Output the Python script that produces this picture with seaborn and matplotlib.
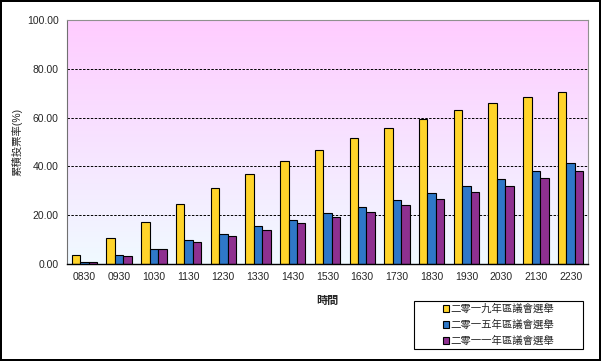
import numpy as np
import pandas as pd
import matplotlib
matplotlib.use("Agg")
import matplotlib.pyplot as plt
from matplotlib.patches import Rectangle
import seaborn as sns

times = ["0830", "0930", "1030", "1130", "1230", "1330", "1430", "1530",
         "1630", "1730", "1830", "1930", "2030", "2130", "2230"]
s2019 = [3.5, 10.5, 17.4, 24.4, 31.3, 37.0, 42.3, 46.8, 51.7, 55.8, 59.5, 63.1, 66.0, 68.4, 70.5]
s2015 = [1.0, 3.5, 6.0, 9.7, 12.5, 15.4, 18.2, 20.7, 23.5, 26.4, 29.3, 32.1, 35.0, 38.2, 41.5]
s2011 = [1.0, 3.1, 6.0, 8.9, 11.3, 13.8, 16.6, 19.1, 21.5, 24.0, 26.8, 29.7, 32.1, 35.4, 38.2]
series_names = ["二零一九年區議會選舉", "二零一五年區議會選舉", "二零一一年區議會選舉"]
yticks = [0, 20, 40, 60, 80, 100]

df = pd.DataFrame({
    "time": times * 3,
    "value": s2019 + s2015 + s2011,
    "series": [series_names[0]] * 15 + [series_names[1]] * 15 + [series_names[2]] * 15,
})

sns.set_style("white")
plt.rcParams["font.family"] = ["Liberation Sans", "Noto Sans CJK TC", "DejaVu Sans"]

fig = plt.figure(figsize=(6.01, 3.61), dpi=100, linewidth=1.5, edgecolor="black")
ax = fig.add_axes([67 / 601, 1 - 264 / 361, (588 - 67) / 601, (264 - 20) / 361])

# gradient background
grad = np.linspace(0, 1, 256).reshape(-1, 1)
top = np.array([255, 204, 255]) / 255
bot = np.array([240, 250, 255]) / 255
img = top * (1 - grad[..., None]) + bot * grad[..., None]
img = img.reshape(256, 1, 3)
ax.imshow(img, extent=[-0.5, 14.5, 0, 100], aspect="auto", zorder=0, origin="upper")

palette = ["#FFD42A", "#2F78C8", "#8E3090"]
sns.barplot(data=df, x="time", y="value", hue="series", palette=palette,
            width=0.73, edgecolor="black", linewidth=0.8, ax=ax, zorder=3,
            saturation=1)

ax.set_xlim(-0.5, 14.5)
ax.set_ylim(0, 100)
ax.set_yticks(yticks)
ax.set_yticklabels([f"{v:.2f}" for v in yticks], fontsize=7.5)
ax.tick_params(axis="y", length=0, pad=6)
ax.tick_params(axis="x", which="major", length=0, labelsize=7.5, pad=6)
ax.set_xticks(np.arange(-0.5, 15, 1), minor=True)
ax.tick_params(axis="x", which="minor", direction="in", length=3, width=0.8, color="black")

for v in [20, 40, 60, 80]:
    ax.axhline(v, color="black", linestyle=(0, (2.5, 1.5)), linewidth=0.7, zorder=2)

for side in ["top", "right"]:
    ax.spines[side].set_color("#909090")
    ax.spines[side].set_linewidth(0.8)
ax.spines["left"].set_color("#707070")
ax.spines["left"].set_linewidth(0.8)
ax.spines["bottom"].set_color("black")
ax.spines["bottom"].set_linewidth(1.0)
for s in ax.spines.values():
    s.set_zorder(5)

ax.set_xlabel("時間", fontsize=8, fontweight="bold", labelpad=10)
ax.set_ylabel("累積投票率(%)", fontsize=7.5, labelpad=3)

handles, labels = ax.get_legend_handles_labels()
if ax.get_legend() is not None:
    ax.get_legend().remove()

# legend box
fig.patches.append(Rectangle((414 / 601, 1 - 349 / 361), 169 / 601, 48 / 361,
                             transform=fig.transFigure, facecolor="white",
                             edgecolor="black", linewidth=0.8, zorder=1))
leg = fig.legend(handles, labels, loc="center",
                 bbox_to_anchor=(498.5 / 601, 1 - 325 / 361),
                 fontsize=7.5, frameon=False,
                 handlelength=0.6, handleheight=0.6,
                 handletextpad=0.15, labelspacing=0.55, borderpad=0.2)

fig.savefig("out.png", dpi=100)
